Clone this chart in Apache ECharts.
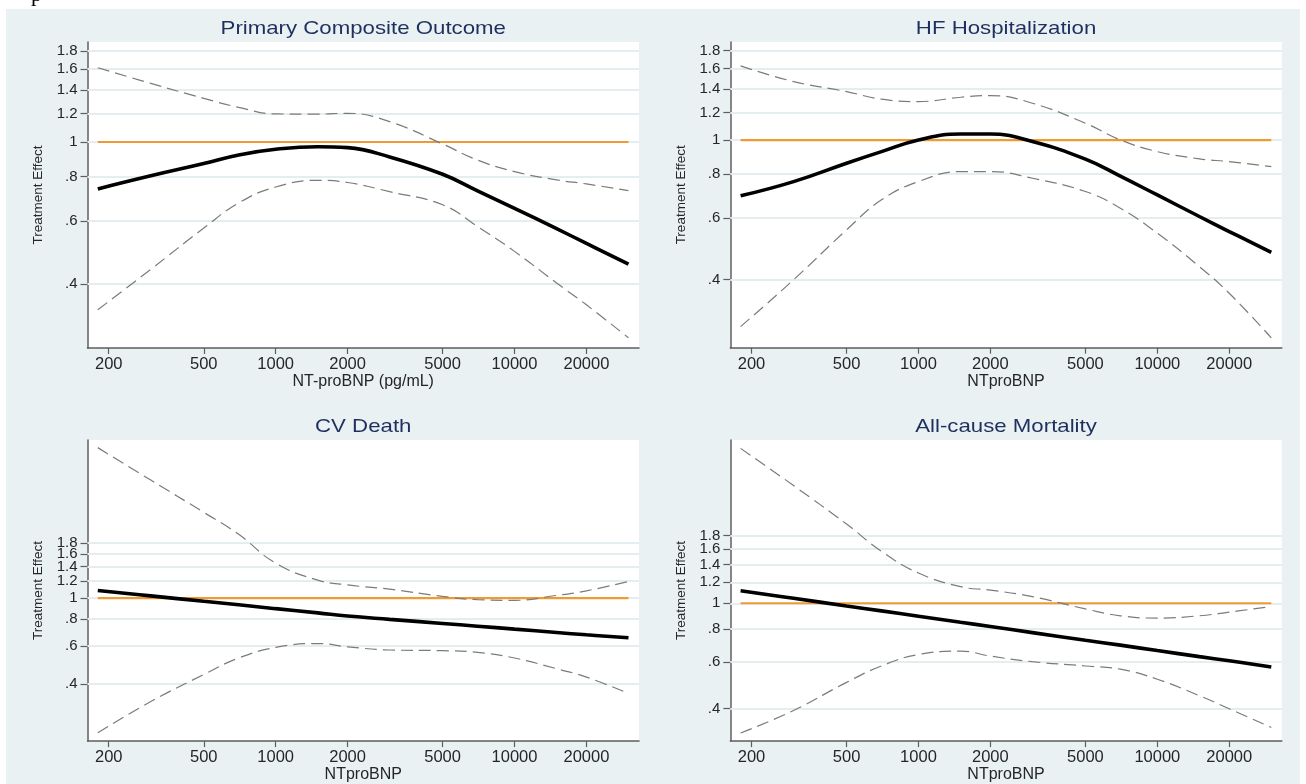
<!DOCTYPE html>
<html>
<head>
<meta charset="utf-8">
<script src="https://cdn.jsdelivr.net/npm/echarts@6/dist/echarts.min.js"></script>
<style>
  html, body { margin: 0; padding: 0; background: #fff; }
  #chart { width: 1306px; height: 784px; }
</style>
</head>
<body>
<div id="chart"></div>
<script>
// NT-proBNP sample points (pg/mL)
const xValues = [180, 300, 500, 700, 1000, 1500, 2000, 3000, 5000, 7000, 10000, 15000, 20000, 30000];
const xTicks = [200, 500, 1000, 2000, 5000, 10000, 20000];
const yTicks = [0.4, 0.6, 0.8, 1, 1.2, 1.4, 1.6, 1.8];

const titles = ['Primary Composite Outcome', 'HF Hospitalization', 'CV Death', 'All-cause Mortality'];
const xNames = ['NT-proBNP (pg/mL)', 'NTproBNP', 'NTproBNP', 'NTproBNP'];

// treatment effect estimate + 95% band, per outcome
const primaryEst   = [0.739, 0.804, 0.870, 0.920, 0.954, 0.970, 0.964, 0.908, 0.812, 0.730, 0.652, 0.572, 0.520, 0.455];
const primaryUpper = [1.614, 1.459, 1.325, 1.250, 1.198, 1.197, 1.203, 1.140, 0.987, 0.890, 0.826, 0.783, 0.763, 0.731];
const primaryLower = [0.339, 0.440, 0.574, 0.675, 0.748, 0.781, 0.770, 0.726, 0.667, 0.580, 0.494, 0.403, 0.350, 0.283];

const hfEst   = [0.694, 0.762, 0.860, 0.928, 1.002, 1.042, 1.042, 0.991, 0.883, 0.790, 0.698, 0.606, 0.549, 0.479];
const hfUpper = [1.629, 1.470, 1.376, 1.309, 1.289, 1.326, 1.341, 1.275, 1.118, 1.002, 0.928, 0.885, 0.869, 0.841];
const hfLower = [0.294, 0.400, 0.555, 0.676, 0.762, 0.814, 0.814, 0.779, 0.714, 0.640, 0.543, 0.436, 0.366, 0.273];

const cvEst   = [1.084, 1.023, 0.966, 0.931, 0.893, 0.854, 0.826, 0.797, 0.763, 0.741, 0.718, 0.693, 0.676, 0.655];
const cvUpper = [4.96, 3.51, 2.49, 1.97, 1.45, 1.21, 1.150, 1.099, 1.018, 0.983, 0.976, 1.028, 1.080, 1.192];
const cvLower = [0.238, 0.332, 0.443, 0.528, 0.591, 0.616, 0.595, 0.575, 0.571, 0.561, 0.528, 0.471, 0.431, 0.362];

const acmEst   = [1.115, 1.044, 0.977, 0.936, 0.894, 0.848, 0.817, 0.775, 0.725, 0.695, 0.663, 0.629, 0.607, 0.575];
const acmUpper = [3.84, 2.78, 1.99, 1.57, 1.30, 1.155, 1.121, 1.059, 0.952, 0.897, 0.879, 0.897, 0.926, 0.972];
const acmLower = [0.324, 0.394, 0.503, 0.580, 0.641, 0.660, 0.632, 0.602, 0.580, 0.564, 0.517, 0.448, 0.400, 0.340];

const estimates = [primaryEst, hfEst, cvEst, acmEst];
const uppers = [primaryUpper, hfUpper, cvUpper, acmUpper];
const lowers = [primaryLower, hfLower, cvLower, acmLower];

// axis ranges
const xRange = [163, 33200];
const yRanges = [[0.265, 1.905], [0.256, 1.906], [0.218, 5.38], [0.302, 4.13]];

// plot boxes
const boxes = [
    { left: 87.5, top: 42, width: 551.5, height: 306 },
    { left: 730.3, top: 42, width: 551.5, height: 305.7 },
    { left: 87.5, top: 440, width: 551.5, height: 305 },
    { left: 730.3, top: 440, width: 551.5, height: 304.3 }
];

const FONT = "'Liberation Sans', Arial, Helvetica, sans-serif";
const AXIS_COLOR = '#5e5e5e';
const LABEL_COLOR = '#262626';
const GRID_COLOR = '#e4edf0';

// echarts drops the label next to the top one when they collide,
// so 1.6 goes on a second, bare axis laid over the first
const overlayTicks = [1.6];
const mainTicks = yTicks.filter(v => !overlayTicks.includes(v));

function fmtTick(v) {
    return v < 1 ? String(v).replace(/^0/, '') : String(v);
}

function pairs(ys) {
    return xValues.map((x, i) => [x, ys[i]]);
}

const grids = [], xAxes = [], yAxes = [], series = [], graphics = [];

// panel background
graphics.push({
    type: 'rect', z: -10, silent: true,
    shape: { x: 6, y: 9, width: 1294, height: 775 },
    style: { fill: '#e9f1f3' }
});
// cut-off letter from the page above
graphics.push({
    type: 'text', x: 31, y: 6, silent: true,
    style: { text: 'p', font: "22px 'Liberation Serif', 'Times New Roman', serif", fill: '#000', verticalAlign: 'bottom' }
});

boxes.forEach((b, i) => {
    grids.push({ ...b, show: true, backgroundColor: '#fff', borderWidth: 0, containLabel: false });

    // source picture is stretched horizontally, so the titles are too
    graphics.push({
        type: 'text', silent: true,
        x: b.left + b.width / 2, y: b.top - 13, scaleX: 1.17,
        style: {
            text: titles[i], fill: '#1f2f5e', align: 'center', verticalAlign: 'middle',
            font: '19px ' + FONT
        }
    });

    xAxes.push({
        type: 'log', gridIndex: i, logBase: 10,
        min: xRange[0], max: xRange[1],
        name: xNames[i], nameLocation: 'middle', nameGap: 20,
        nameTextStyle: { color: LABEL_COLOR, fontSize: 16, fontFamily: FONT },
        axisLine: { show: true, onZero: false, lineStyle: { color: AXIS_COLOR, width: 1.5 } },
        axisTick: { show: true, length: 6, customValues: xTicks, lineStyle: { color: AXIS_COLOR, width: 1.2 } },
        axisLabel: {
            customValues: xTicks, margin: 8, color: LABEL_COLOR, fontSize: 16.5, fontFamily: FONT,
            hideOverlap: false, formatter: v => String(v)
        },
        splitLine: { show: false },
        minorTick: { show: false }
    });

    const yLabelStyle = {
        margin: 10, color: LABEL_COLOR, fontSize: 15, fontFamily: FONT,
        interval: 0, hideOverlap: false, formatter: fmtTick
    };

    yAxes.push({
        type: 'log', gridIndex: i, logBase: 10, position: 'left',
        min: yRanges[i][0], max: yRanges[i][1],
        name: 'Treatment Effect', nameLocation: 'middle', nameGap: 42,
        nameTextStyle: { color: LABEL_COLOR, fontSize: 13.5, fontFamily: FONT },
        axisLine: { show: true, onZero: false, lineStyle: { color: AXIS_COLOR, width: 1.5 } },
        axisTick: { show: true, length: 7, customValues: yTicks, lineStyle: { color: AXIS_COLOR, width: 1.2 } },
        axisLabel: { ...yLabelStyle, customValues: mainTicks, showMinLabel: true, showMaxLabel: true },
        splitLine: { show: false },
        minorTick: { show: false }
    });
    yAxes.push({
        type: 'log', gridIndex: i, logBase: 10, position: 'left', offset: 0,
        min: yRanges[i][0], max: yRanges[i][1],
        axisLine: { show: false },
        axisTick: { show: false },
        axisLabel: { ...yLabelStyle, customValues: overlayTicks, showMinLabel: true, showMaxLabel: true },
        splitLine: { show: false },
        minorTick: { show: false }
    });

    const yIdx = i * 2;

    // gridlines at the labelled ticks
    series.push({
        type: 'line', xAxisIndex: i, yAxisIndex: yIdx, data: [], z: 1, silent: true,
        markLine: {
            silent: true, symbol: 'none', z: 1, animation: false,
            label: { show: false },
            lineStyle: { color: GRID_COLOR, width: 2, type: 'solid' },
            data: yTicks.map(v => ({ yAxis: v }))
        }
    });

    // reference line at 1
    series.push({
        type: 'line', xAxisIndex: i, yAxisIndex: yIdx, z: 2, silent: true,
        data: [[xValues[0], 1], [xValues[xValues.length - 1], 1]],
        symbol: 'none', lineStyle: { color: '#f19a34', width: 2.2 }
    });

    [uppers[i], lowers[i]].forEach(band => {
        series.push({
            type: 'line', xAxisIndex: i, yAxisIndex: yIdx, z: 3, silent: true,
            data: pairs(band), smooth: 0.45, symbol: 'none',
            lineStyle: { color: '#7b7b7b', width: 1.2, type: [12, 6] }
        });
    });

    series.push({
        type: 'line', xAxisIndex: i, yAxisIndex: yIdx, z: 4, silent: true,
        data: pairs(estimates[i]), smooth: 0.45, symbol: 'none',
        lineStyle: { color: '#000', width: 3.6 }
    });
});

const chart = echarts.init(document.getElementById('chart'));
chart.setOption({
    backgroundColor: '#fff',
    animation: false,
    grid: grids,
    xAxis: xAxes,
    yAxis: yAxes,
    series,
    graphic: graphics
});
</script>
</body>
</html>
